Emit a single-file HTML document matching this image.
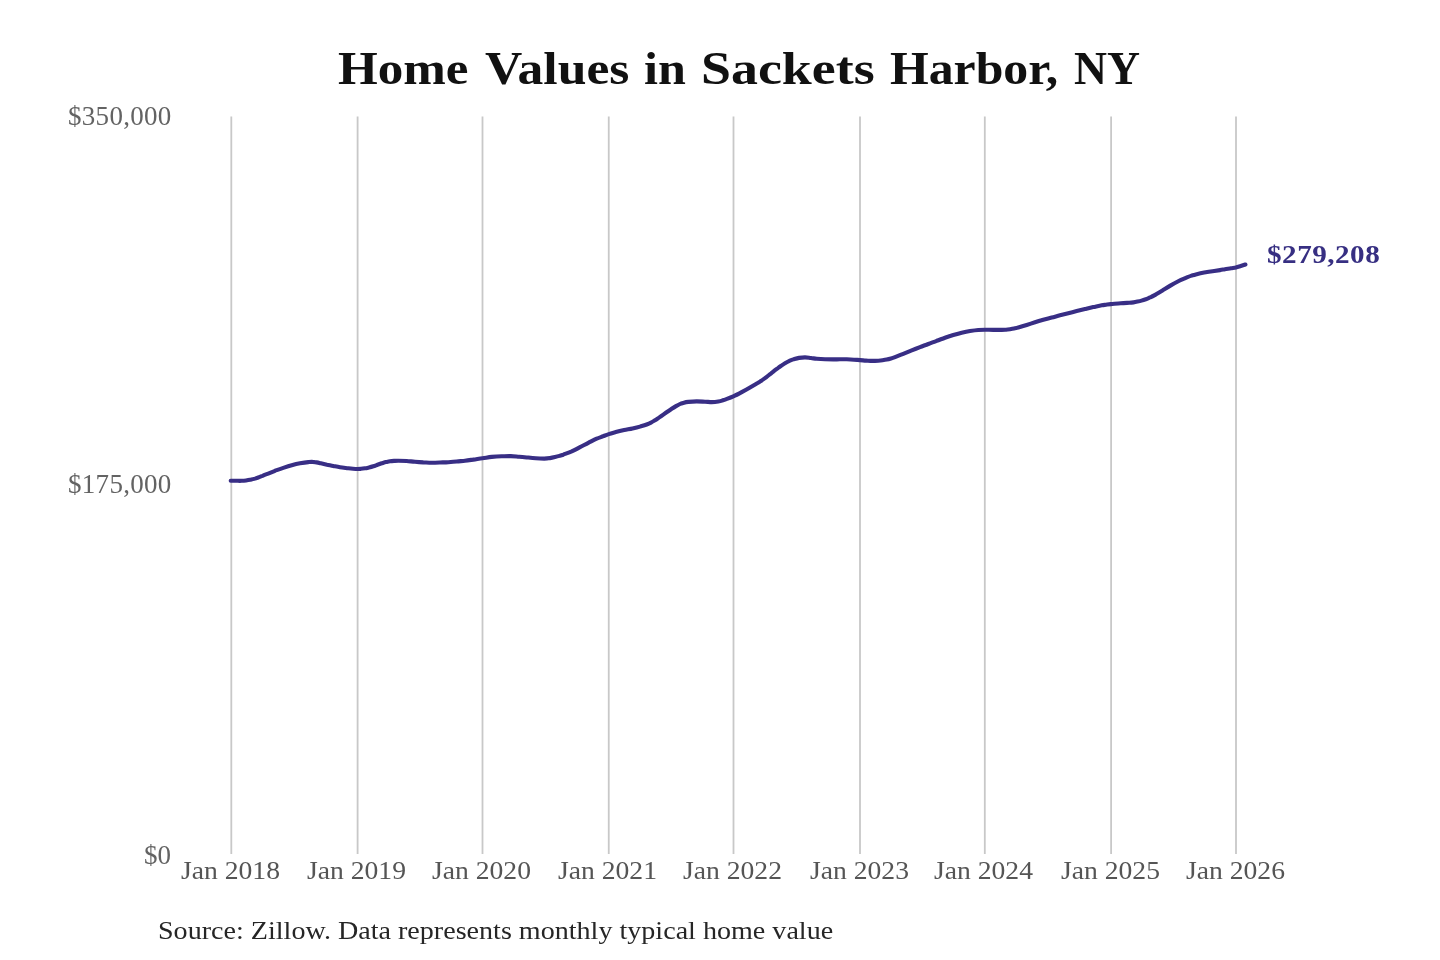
<!DOCTYPE html>
<html lang="en">
<head>
<meta charset="utf-8">
<title>Home Values in Sackets Harbor, NY</title>
<style>
html,body{margin:0;padding:0;background:#ffffff;}
body{width:1440px;height:960px;position:relative;overflow:hidden;font-family:"Liberation Serif",serif;}
svg.plot{position:absolute;left:0;top:0;}
.t{position:absolute;white-space:nowrap;line-height:1;transform-origin:0 50%;will-change:transform;}
.title{font-weight:bold;font-size:45.5px;color:#111111;top:45.6px;}
.yl{font-size:27px;color:#636363;right:1268.8px;transform-origin:100% 50%;}
.xl{font-size:25px;color:#555555;top:858.2px;}
.src{font-size:24.4px;color:#262626;left:158px;top:919px;}
.end{font-weight:bold;font-size:26px;color:#372f82;left:1267.2px;top:242.4px;letter-spacing:0.45px;transform:scaleX(1.12);}
</style>
</head>
<body>
<svg class="plot" width="1440" height="960" viewBox="0 0 1440 960"><g stroke="#c8c8c8" stroke-width="1.8" fill="none"><line x1="231.3" y1="116.4" x2="231.3" y2="854.0"/><line x1="357.6" y1="116.4" x2="357.6" y2="854.0"/><line x1="482.5" y1="116.4" x2="482.5" y2="854.0"/><line x1="608.75" y1="116.4" x2="608.75" y2="854.0"/><line x1="733.5" y1="116.4" x2="733.5" y2="854.0"/><line x1="860.0" y1="116.4" x2="860.0" y2="854.0"/><line x1="984.8" y1="116.4" x2="984.8" y2="854.0"/><line x1="1111.1" y1="116.4" x2="1111.1" y2="854.0"/><line x1="1236.0" y1="116.4" x2="1236.0" y2="854.0"/></g><path d="M230.7 480.8 C231.6 480.8 234.2 480.8 236.0 480.8 C237.8 480.8 240.0 480.9 241.7 480.8 C243.4 480.8 244.6 480.7 246.0 480.5 C247.4 480.3 248.7 480.1 250.0 479.8 C251.3 479.5 252.6 479.3 254.0 478.9 C255.4 478.5 256.9 478.0 258.3 477.5 C259.7 477.0 261.1 476.4 262.5 475.9 C263.9 475.3 264.6 475.0 266.7 474.2 C268.8 473.4 272.2 471.9 275.0 470.8 C277.8 469.8 280.5 468.8 283.3 467.9 C286.1 467.0 288.9 466.1 291.7 465.3 C294.5 464.5 297.2 463.8 300.0 463.3 C302.8 462.8 306.2 462.3 308.3 462.1 C310.4 461.9 311.1 461.8 312.5 461.9 C313.9 461.9 315.1 462.2 316.5 462.4 C317.9 462.6 319.1 462.9 320.8 463.3 C322.6 463.7 324.9 464.2 327.0 464.7 C329.1 465.1 331.1 465.6 333.3 466.0 C335.5 466.4 337.5 466.8 340.0 467.2 C342.5 467.6 346.1 468.0 348.3 468.3 C350.5 468.6 351.5 468.7 353.0 468.8 C354.5 468.9 356.2 469.0 357.5 469.0 C358.8 469.0 359.8 468.9 361.0 468.8 C362.2 468.7 363.7 468.5 365.0 468.3 C366.3 468.1 367.6 467.8 369.0 467.5 C370.4 467.2 371.9 466.8 373.3 466.3 C374.7 465.9 376.1 465.3 377.5 464.8 C378.9 464.3 380.3 463.8 381.7 463.3 C383.1 462.9 384.6 462.4 386.0 462.1 C387.4 461.8 388.7 461.5 390.0 461.3 C391.3 461.1 392.6 461.0 394.0 460.9 C395.4 460.8 396.2 460.7 398.3 460.7 C400.4 460.7 403.9 460.8 406.7 461.0 C409.5 461.2 412.2 461.6 415.0 461.8 C417.8 462.0 420.5 462.2 423.3 462.4 C426.1 462.5 428.9 462.7 431.7 462.7 C434.5 462.7 437.2 462.6 440.0 462.5 C442.8 462.4 445.5 462.4 448.3 462.2 C451.1 462.0 453.9 461.8 456.7 461.5 C459.5 461.2 462.2 461.0 465.0 460.7 C467.8 460.4 470.4 460.0 473.3 459.6 C476.2 459.2 479.4 458.6 482.5 458.2 C485.6 457.8 488.5 457.2 491.7 456.9 C494.9 456.6 498.5 456.4 501.7 456.3 C504.9 456.2 507.9 456.0 510.8 456.1 C513.7 456.2 516.4 456.5 519.2 456.7 C522.0 456.9 524.7 457.2 527.5 457.5 C530.3 457.8 533.0 458.1 535.8 458.3 C538.6 458.5 541.8 458.6 544.2 458.6 C546.6 458.6 548.2 458.4 550.0 458.1 C551.8 457.9 553.4 457.5 555.0 457.1 C556.6 456.7 558.1 456.3 559.5 455.9 C560.9 455.5 561.3 455.4 563.3 454.7 C565.3 453.9 568.9 452.6 571.7 451.4 C574.5 450.1 577.2 448.6 580.0 447.2 C582.8 445.8 585.5 444.3 588.3 442.9 C591.1 441.5 594.2 439.8 596.7 438.7 C599.2 437.6 601.3 437.0 603.3 436.2 C605.3 435.4 606.7 434.8 608.8 434.1 C610.8 433.4 613.2 432.8 615.8 432.1 C618.4 431.4 621.4 430.7 624.2 430.1 C627.0 429.5 629.9 429.1 632.5 428.5 C635.1 427.9 637.6 427.3 640.0 426.6 C642.4 425.9 644.9 425.2 646.7 424.5 C648.5 423.8 649.6 423.3 651.0 422.6 C652.4 421.9 653.7 421.0 655.0 420.2 C656.3 419.4 657.6 418.5 659.0 417.6 C660.4 416.7 661.2 416.2 663.3 414.7 C665.4 413.2 669.6 410.2 671.7 408.8 C673.8 407.4 674.6 406.9 676.0 406.1 C677.4 405.3 678.7 404.6 680.0 404.0 C681.3 403.4 682.6 403.1 684.0 402.7 C685.4 402.3 686.2 402.1 688.3 401.9 C690.4 401.7 693.9 401.4 696.7 401.4 C699.5 401.4 702.5 401.6 705.0 401.7 C707.5 401.8 709.5 402.1 711.7 402.1 C713.9 402.1 716.6 401.8 718.3 401.5 C720.0 401.2 720.8 401.0 722.0 400.6 C723.2 400.2 723.9 400.0 725.8 399.3 C727.7 398.6 730.6 397.6 733.3 396.4 C735.9 395.2 738.9 393.6 741.7 392.1 C744.5 390.6 747.6 388.8 750.0 387.4 C752.4 386.0 754.3 384.9 756.0 383.9 C757.7 382.9 758.5 382.6 760.0 381.6 C761.5 380.7 763.5 379.3 765.0 378.2 C766.5 377.1 767.6 376.1 769.0 375.0 C770.4 373.9 771.8 372.9 773.3 371.7 C774.8 370.5 776.6 369.1 778.0 368.0 C779.4 366.9 780.5 366.2 781.7 365.4 C782.9 364.6 783.8 363.9 785.0 363.2 C786.2 362.5 787.6 361.7 789.0 361.1 C790.4 360.5 791.6 359.9 793.3 359.4 C795.0 358.9 797.0 358.2 799.0 357.9 C801.0 357.6 803.0 357.4 805.0 357.4 C807.0 357.4 809.0 357.8 811.0 358.0 C813.0 358.2 814.4 358.6 816.7 358.8 C819.0 359.0 822.2 359.2 825.0 359.3 C827.8 359.4 830.8 359.4 833.3 359.4 C835.8 359.4 837.8 359.3 840.0 359.3 C842.2 359.3 844.4 359.2 846.7 359.3 C849.0 359.4 851.8 359.6 854.0 359.7 C856.2 359.8 858.0 360.0 860.0 360.1 C862.0 360.2 864.0 360.5 866.0 360.6 C868.0 360.7 870.0 360.9 872.0 360.9 C874.0 360.9 876.5 360.8 878.3 360.7 C880.0 360.6 881.1 360.5 882.5 360.3 C883.9 360.1 885.3 359.9 886.7 359.6 C888.1 359.3 889.6 358.9 891.0 358.5 C892.4 358.1 893.0 357.9 895.0 357.1 C897.0 356.3 900.5 354.9 903.3 353.8 C906.1 352.7 908.9 351.5 911.7 350.4 C914.5 349.3 917.2 348.2 920.0 347.1 C922.8 346.0 925.5 345.1 928.3 344.0 C931.1 342.9 933.9 341.9 936.7 340.8 C939.5 339.8 942.2 338.7 945.0 337.7 C947.8 336.7 950.5 335.8 953.3 335.0 C956.1 334.2 958.9 333.4 961.7 332.7 C964.5 332.0 967.2 331.4 970.0 331.0 C972.8 330.6 975.8 330.2 978.3 330.0 C980.8 329.8 982.5 329.7 985.0 329.7 C987.5 329.7 990.5 329.9 993.3 329.9 C996.1 329.9 999.6 329.9 1001.7 329.9 C1003.8 329.9 1004.6 329.8 1006.0 329.7 C1007.4 329.6 1008.7 329.4 1010.0 329.2 C1011.3 329.0 1012.6 328.8 1014.0 328.5 C1015.4 328.2 1016.2 328.1 1018.3 327.5 C1020.4 326.9 1023.9 325.9 1026.7 325.0 C1029.5 324.1 1032.2 323.2 1035.0 322.3 C1037.8 321.4 1040.5 320.6 1043.3 319.8 C1046.1 319.0 1048.9 318.2 1051.7 317.5 C1054.5 316.8 1057.2 316.0 1060.0 315.3 C1062.8 314.6 1065.5 313.9 1068.3 313.2 C1071.1 312.5 1073.9 311.8 1076.7 311.1 C1079.5 310.4 1082.2 309.8 1085.0 309.1 C1087.8 308.4 1090.5 307.7 1093.3 307.1 C1096.1 306.5 1099.6 305.7 1101.7 305.3 C1103.8 304.9 1104.5 304.9 1106.0 304.7 C1107.5 304.5 1108.3 304.4 1110.8 304.1 C1113.3 303.9 1117.7 303.4 1120.8 303.2 C1123.9 303.0 1127.1 302.9 1129.2 302.8 C1131.3 302.7 1132.1 302.6 1133.5 302.4 C1134.9 302.2 1136.2 301.9 1137.5 301.6 C1138.8 301.3 1140.1 301.0 1141.5 300.6 C1142.9 300.2 1144.4 299.7 1145.8 299.2 C1147.2 298.7 1148.6 298.0 1150.0 297.4 C1151.4 296.8 1152.1 296.6 1154.2 295.4 C1156.3 294.2 1159.7 292.1 1162.5 290.4 C1165.3 288.7 1168.0 287.0 1170.8 285.4 C1173.6 283.8 1177.1 281.9 1179.2 280.8 C1181.3 279.7 1182.1 279.4 1183.5 278.8 C1184.9 278.2 1186.2 277.6 1187.5 277.1 C1188.8 276.6 1190.1 276.1 1191.5 275.6 C1192.9 275.2 1193.7 274.9 1195.8 274.4 C1197.9 273.9 1201.4 273.1 1204.2 272.6 C1207.0 272.1 1209.9 271.6 1212.5 271.2 C1215.1 270.8 1217.9 270.4 1220.0 270.1 C1222.1 269.8 1223.2 269.5 1225.0 269.2 C1226.8 268.9 1229.2 268.6 1231.0 268.3 C1232.8 268.0 1234.4 267.9 1236.0 267.5 C1237.6 267.1 1239.2 266.5 1240.8 266.0 C1242.4 265.5 1244.6 264.8 1245.4 264.5" fill="none" stroke="#382e85" stroke-width="4.1" stroke-linecap="round" stroke-linejoin="round"/></svg>
<h1 style="margin:0;font-size:inherit;font-weight:inherit">
<span class="t title" id="title0" style="left:337.9px;transform:scaleX(1.1226)">Home</span>
<span class="t title" id="title1" style="left:484.8px;transform:scaleX(1.1345)">Values</span>
<span class="t title" id="title2" style="left:644.4px;transform:scaleX(1.1014)">in</span>
<span class="t title" id="title3" style="left:700.9px;transform:scaleX(1.1841)">Sackets</span>
<span class="t title" id="title4" style="left:890.2px;transform:scaleX(1.0937)">Harbor,</span>
<span class="t title" id="title5" style="left:1074.3px;transform:scaleX(1.0043)">NY</span>
</h1>
<div class="t yl" id="yl0" style="top:102.9px;letter-spacing:0.3px;margin-right:-0.3px">$350,000</div>
<div class="t yl" id="yl1" style="top:470.9px;letter-spacing:0.3px;margin-right:-0.3px">$175,000</div>
<div class="t yl" id="yl2" style="top:841.7px">$0</div>
<div class="t xl" id="xl0" style="left:180.8px;transform:scaleX(1.1052)">Jan 2018</div>
<div class="t xl" id="xl1" style="left:307.1px;transform:scaleX(1.1052)">Jan 2019</div>
<div class="t xl" id="xl2" style="left:432.0px;transform:scaleX(1.1052)">Jan 2020</div>
<div class="t xl" id="xl3" style="left:558.2px;transform:scaleX(1.1052)">Jan 2021</div>
<div class="t xl" id="xl4" style="left:683.0px;transform:scaleX(1.1052)">Jan 2022</div>
<div class="t xl" id="xl5" style="left:809.5px;transform:scaleX(1.1052)">Jan 2023</div>
<div class="t xl" id="xl6" style="left:934.3px;transform:scaleX(1.1052)">Jan 2024</div>
<div class="t xl" id="xl7" style="left:1060.6px;transform:scaleX(1.1052)">Jan 2025</div>
<div class="t xl" id="xl8" style="left:1185.5px;transform:scaleX(1.1052)">Jan 2026</div>
<div class="t end" id="end">$279,208</div>
<div class="t src" id="src" style="transform:scaleX(1.1515)">Source: Zillow. Data represents monthly typical home value</div>
</body>
</html>
